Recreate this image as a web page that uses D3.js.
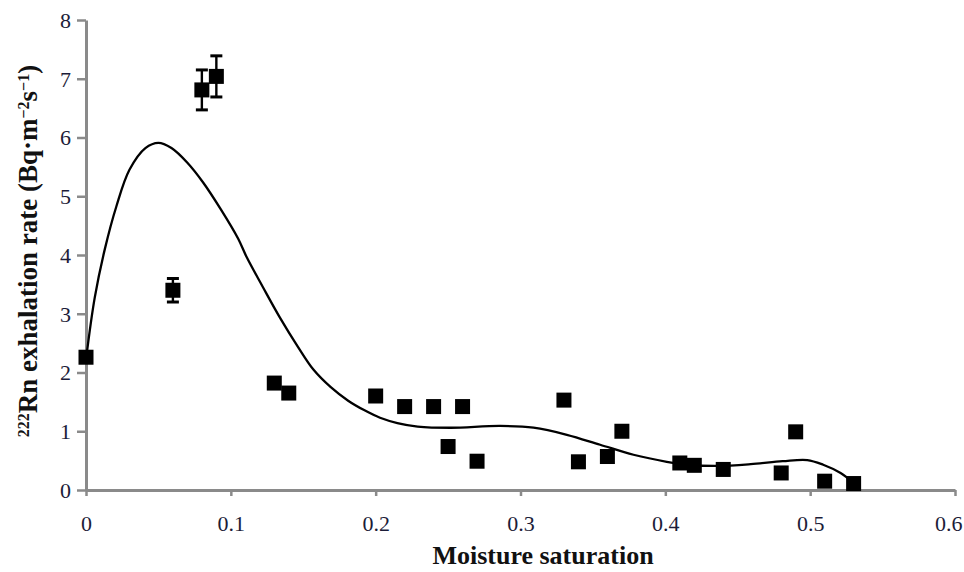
<!DOCTYPE html>
<html><head><meta charset="utf-8">
<script src="https://cdn.jsdelivr.net/npm/d3@7"></script>
<style>body{margin:0;background:#fff}svg{display:block}</style>
</head><body>
<svg id="c" width="964" height="572"></svg>
<script>
const xTicks = [0, 0.1, 0.2, 0.3, 0.4, 0.5, 0.6];
const yTicks = [0, 1, 2, 3, 4, 5, 6, 7, 8];
const pointX = [0, 0.06, 0.08, 0.09, 0.13, 0.14, 0.20, 0.22, 0.24, 0.25, 0.26, 0.27, 0.33, 0.34, 0.36, 0.37, 0.41, 0.42, 0.44, 0.48, 0.49, 0.51, 0.53];
const pointY = [2.26, 3.40, 6.81, 7.04, 1.82, 1.65, 1.60, 1.42, 1.42, 0.74, 1.42, 0.49, 1.53, 0.48, 0.57, 1.00, 0.46, 0.42, 0.35, 0.29, 0.99, 0.15, 0.11];
const pointErr = [0, 0.2, 0.34, 0.35, 0, 0, 0, 0, 0, 0, 0, 0, 0, 0, 0, 0, 0, 0, 0, 0, 0, 0, 0];
const curveX = [0, 0.006, 0.013, 0.021, 0.030, 0.041, 0.050, 0.059, 0.070, 0.081, 0.093, 0.105, 0.111, 0.122, 0.134, 0.146, 0.157, 0.169, 0.181, 0.192, 0.203, 0.215, 0.229, 0.252, 0.286, 0.309, 0.332, 0.355, 0.378, 0.401, 0.415, 0.436, 0.459, 0.481, 0.498, 0.509, 0.521, 0.530];
const curveY = [2.22, 3.27, 4.10, 4.83, 5.45, 5.82, 5.91, 5.82, 5.57, 5.23, 4.78, 4.28, 3.96, 3.46, 2.93, 2.45, 2.05, 1.75, 1.52, 1.36, 1.23, 1.14, 1.08, 1.06, 1.09, 1.06, 0.94, 0.77, 0.60, 0.48, 0.43, 0.41, 0.44, 0.49, 0.51, 0.43, 0.29, 0.12];

const serif = "'Liberation Serif','Times New Roman',serif";
const svg = d3.select("#c");
const x = d3.scaleLinear().domain([0, 0.6]).range([86, 955]);
const y = d3.scaleLinear().domain([0, 8]).range([490, 20]);
const axisColor = "#8a8a8a";
const textColor = "#1c1c38";

// axes
const gx = svg.append("g").attr("transform", `translate(0,${y(0)})`)
  .call(d3.axisBottom(x).tickValues(xTicks).tickFormat(d => d === 0 ? "0" : d3.format(".1f")(d)).tickSize(6).tickSizeOuter(0));
const gy = svg.append("g").attr("transform", `translate(${x(0)},0)`)
  .call(d3.axisLeft(y).tickValues(yTicks).tickFormat(d3.format("d")).tickSize(9).tickSizeOuter(0));
[gx, gy].forEach(g => {
  g.select(".domain").attr("stroke", axisColor).attr("stroke-width", 3);
  g.selectAll(".tick line").attr("stroke", axisColor).attr("stroke-width", 2.5);
  g.selectAll(".tick text").attr("fill", textColor)
    .style("font-family", serif).style("font-size", "22px");
});
gx.selectAll(".tick text").attr("y", 0).attr("dy", 41)
  .filter(d => d === 0.6).attr("text-anchor", "end").attr("x", 7);
gy.selectAll(".tick text").attr("x", -15).attr("dy", "0.33em");

// fitted curve
const line = d3.line().x(d => x(d[0])).y(d => y(d[1])).curve(d3.curveCatmullRom.alpha(0.5));
svg.append("path").datum(curveX.map((v, i) => [v, curveY[i]]))
  .attr("d", line).attr("fill", "none").attr("stroke", "#000").attr("stroke-width", 2.3);

// points with error bars
const pts = pointX.map((v, i) => ({x: v, y: pointY[i], e: pointErr[i]}));
const eb = svg.append("g").attr("stroke", "#000").attr("stroke-width", 2.4);
pts.filter(d => d.e > 0).forEach(d => {
  eb.append("line").attr("x1", x(d.x)).attr("x2", x(d.x)).attr("y1", y(d.y - d.e)).attr("y2", y(d.y + d.e));
  [d.y - d.e, d.y + d.e].forEach(v => {
    eb.append("line").attr("x1", x(d.x) - 6).attr("x2", x(d.x) + 6).attr("y1", y(v)).attr("y2", y(v)).attr("stroke-width", 3);
  });
});
const s = 15;
svg.append("g").selectAll("rect").data(pts).join("rect")
  .attr("x", d => x(d.x) - s / 2).attr("y", d => y(d.y) - s / 2)
  .attr("width", s).attr("height", s).attr("fill", "#000");

// titles
svg.append("text").attr("x", 543).attr("y", 564).attr("text-anchor", "middle")
  .style("font-family", serif).style("font-size", "26px").style("font-weight", "bold")
  .attr("fill", "#111").text("Moisture saturation");

const yt = svg.append("text").attr("transform", "translate(37,251) rotate(-90)").attr("text-anchor", "middle")
  .style("font-family", serif).style("font-size", "27px").style("font-weight", "bold")
  .attr("fill", "#111");
yt.append("tspan").attr("baseline-shift", "super").style("font-size", "16px").text("222");
yt.append("tspan").text("Rn exhalation rate (Bq·m");
yt.append("tspan").attr("baseline-shift", "super").style("font-size", "16px").text("−2");
yt.append("tspan").text("s");
yt.append("tspan").attr("baseline-shift", "super").style("font-size", "16px").text("−1");
yt.append("tspan").text(")");
</script>
</body></html>
